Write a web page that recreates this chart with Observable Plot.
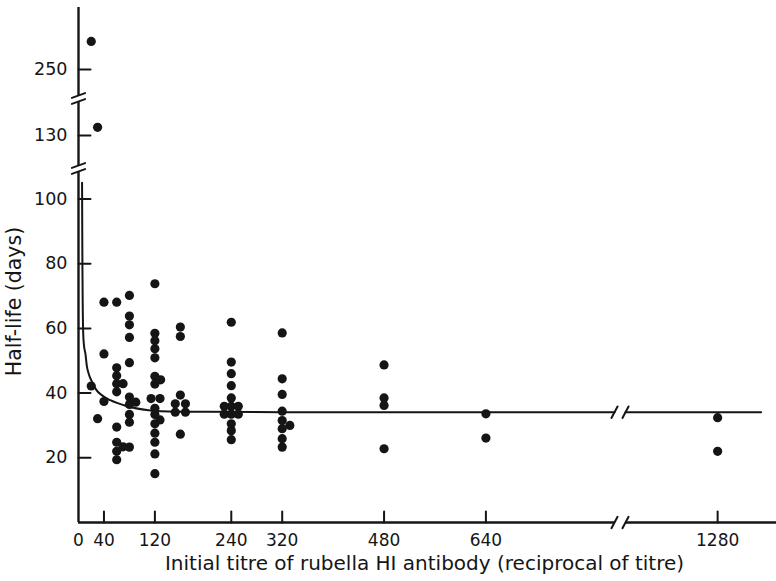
<!DOCTYPE html>
<html><head><meta charset="utf-8">
<script src="https://cdn.jsdelivr.net/npm/d3@7"></script>
<script src="https://cdn.jsdelivr.net/npm/@observablehq/plot@0.6"></script>
<style>
html,body{margin:0;padding:0;background:#fff;}
</style></head><body><div id="chart"></div>
<script>
// ---- data ----
const titres = [
  20, 30,
  20,
  30,
  40, 40, 40,
  60, 60, 60, 60, 60, 60, 60, 60, 60,
  70, 70,
  80, 80, 80, 80, 80, 80, 80, 80, 80, 80,
  90,
  114,
  120, 120, 120, 120, 120, 120, 120, 120, 120, 120, 120, 120, 120, 120,
  128, 128,
  129,
  152, 152,
  160, 160, 160, 160,
  168, 168,
  229, 229,
  240, 240, 240, 240, 240, 240, 240, 240, 240, 240,
  251, 251,
  320, 320, 320, 320, 320, 320, 320, 320,
  332,
  480, 480, 480, 480,
  640, 640,
  1280, 1280
];
const halfLives = [
  258.7, 132.5,
  42.2,
  32.1,
  68.1, 52.1, 37.4,
  68.1, 47.8, 45.4, 42.9, 40.4, 29.5, 24.8, 22.0, 19.4,
  42.9, 23.4,
  70.2, 63.8, 61.1, 57.2, 49.4, 38.8, 36.5, 33.4, 31.0, 23.3,
  37.2,
  38.3,
  73.8, 58.5, 56.2, 53.7, 50.9, 45.2, 42.8, 35.3, 33.4, 30.5, 27.6, 24.8, 21.2, 15.1,
  38.3, 31.7,
  44.1,
  36.7, 34.1,
  60.4, 57.5, 39.4, 27.3,
  36.7, 34.1,
  35.9, 33.5,
  61.9, 49.6, 46.0, 42.3, 38.5, 35.9, 33.5, 30.5, 28.4, 25.6,
  35.9, 33.5,
  58.6, 44.4, 39.6, 34.4, 31.5, 29.0, 25.9, 23.3,
  30.0,
  48.7, 38.5, 36.2, 22.8,
  33.6, 26.1,
  32.4, 22.0
];
// fitted curve (left of the axis break, then right of it)
const curveTitres = [5.6, 5.9, 6.2, 6.6, 7.4, 8.5, 11, 13, 16, 20, 24, 28, 37, 50, 75, 110, 130, 200, 320, 480, 842];
const curveHalfLives = [105, 90, 78, 68, 58.5, 55, 52, 48.5, 46, 44, 42.5, 41, 39.3, 37.8, 36, 34.7, 34.4, 34.2, 34.1, 34.1, 34.1];
const tailTitres = [1136, 1348];
const tailHalfLives = [34.1, 34.1];

const xTicks = [40, 120, 240, 320, 480, 640, 1280];
const xTickLabels = [0, 40, 120, 240, 320, 480, 640, 1280];
const yTicks = [20, 40, 60, 80, 100, 130, 250];
const xTitle = "Initial titre of rubella HI antibody (reciprocal of titre)";
const yTitle = "Half-life (days)";

// broken-axis layout
const xDomain = [0, 842, 1136, 1372];
const xRange = [78, 614, 625, 776];
const yDomain = [0, 108.5, 120.7, 140.5, 242, 269.2];
const yRange = [522, 171, 165, 101, 95, 7];
const xSegments = [[0, 842], [1136, 1372]];
const ySegments = [[0, 108.5], [120.7, 140.5], [242, 269.2]];
const yBreakEnds = [108.5, 120.7, 140.5, 242];
const xBreakEnds = [842, 1136];

const points = titres.map((t, i) => ({t, v: halfLives[i]}));
const curve = curveTitres.map((t, i) => ({t, v: curveHalfLives[i]}));
const tail = tailTitres.map((t, i) => ({t, v: tailHalfLives[i]}));

const ink = "#151515";
const font = "'DejaVu Sans', sans-serif";
const stroke = {draw(context, l) { context.moveTo(0, 0); context.lineTo(0, -l); }};

const chart = Plot.plot({
  width: 776,
  height: 581,
  marginLeft: 78, marginRight: 0, marginTop: 7, marginBottom: 59,
  style: {fontFamily: font, fontSize: "18px", color: ink, background: "#fff"},
  x: {type: "linear", domain: xDomain, range: xRange, axis: null},
  y: {type: "linear", domain: yDomain, range: yRange, axis: null},
  marks: [
    // axis lines
    Plot.ruleX(ySegments, {x: 0, y1: d => d[0], y2: d => d[1], stroke: ink, strokeWidth: 2.4}),
    Plot.ruleY(xSegments, {y: 0, x1: d => d[0], x2: d => d[1], stroke: ink, strokeWidth: 2.4}),
    // break marks
    Plot.vector(yBreakEnds, {x: 0, y: d => d, length: 14, rotate: 70, anchor: "middle", shape: stroke, stroke: ink, strokeWidth: 2}),
    Plot.vector(xBreakEnds, {x: d => d, y: 0, length: 13, rotate: 28, anchor: "middle", shape: stroke, stroke: ink, strokeWidth: 2}),
    Plot.vector(xBreakEnds, {x: d => d, y: 34.1, length: 13, rotate: 28, anchor: "middle", shape: stroke, stroke: ink, strokeWidth: 2}),
    // ticks
    Plot.vector(yTicks, {x: 0, y: d => d, length: 12, rotate: 90, anchor: "start", shape: stroke, stroke: ink, strokeWidth: 2}),
    Plot.vector(xTicks, {x: d => d, y: 0, length: 11, rotate: 0, anchor: "start", shape: stroke, stroke: ink, strokeWidth: 2}),
    // tick labels
    Plot.text(yTicks, {x: 0, y: d => d, text: d => String(d), dx: -11, textAnchor: "end", lineAnchor: "middle", fontSize: 17.5, fill: ink}),
    Plot.text(xTickLabels, {x: d => d, y: 0, text: d => String(d), dy: 18, textAnchor: "middle", lineAnchor: "middle", fontSize: 17, fill: ink}),
    // axis titles
    Plot.text([xTitle], {frameAnchor: "bottom", dx: -3, dy: 41.5, textAnchor: "middle", lineAnchor: "middle", fontSize: 20, fill: ink}),
    Plot.text([yTitle], {frameAnchor: "left", dx: -64, dy: 36.5, rotate: -90, textAnchor: "middle", lineAnchor: "middle", fontSize: 20.5, fill: ink}),
    // fitted curve
    Plot.line(curve, {x: "t", y: "v", curve: "monotone-x", stroke: ink, strokeWidth: 2}),
    Plot.line(tail, {x: "t", y: "v", stroke: ink, strokeWidth: 2}),
    // observations
    Plot.dot(points, {x: "t", y: "v", r: 4.6, fill: ink, stroke: "none"})
  ]
});
document.getElementById("chart").appendChild(chart);
</script>
</body></html>
